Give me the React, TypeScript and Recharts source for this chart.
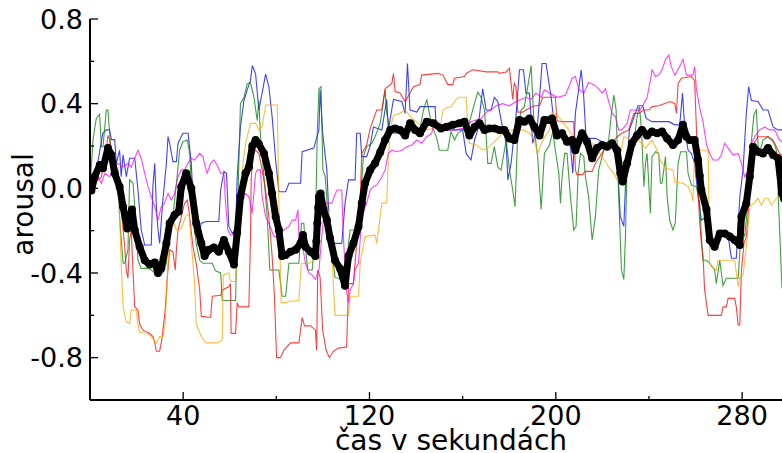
import React from 'react';
import { LineChart, Line, XAxis, YAxis } from 'recharts';

// ---- axis ticks ----
const xMajorTicks = [40, 120, 200, 280];
const xMinorTicks = [80, 160, 240];
const yMajorTicks = [0.8, 0.4, 0.0, -0.4, -0.8];
const yMinorTicks = [0.6, 0.2, -0.2, -0.6];
const xLabel = 'čas v sekundách';
const yLabel = 'arousal';

// ---- series: [seconds, arousal] ----
const meanSeries: [number, number][] = [
  [0, 0], [0.6, -0.01], [2, 0.055], [4.2, 0.11], [5.6, 0.095], [7.7, 0.19], [9.2, 0.158], [10.6, 0.071], [12.7, 0.008], [14.2, -0.087],
  [16, -0.19], [17, -0.134], [18, -0.1], [19.2, -0.197], [21.3, -0.276], [23.5, -0.34], [25.6, -0.36], [27.8, -0.35], [29.2, -0.4], [30.6, -0.378],
  [32.8, -0.26], [34.2, -0.165], [36.3, -0.126], [38.1, -0.11], [39.2, 0.008], [41.3, 0.071], [43.5, 0], [45.6, -0.165], [47.8, -0.26], [49.2, -0.32],
  [51, -0.29], [53.2, -0.28], [55.3, -0.3], [57.5, -0.244], [59.6, -0.3], [61.8, -0.36], [63.2, -0.21], [64.6, -0.04], [66.8, 0.071], [68.2, 0.1],
  [69.7, 0.2], [71.1, 0.228], [72.5, 0.21], [74.7, 0.165], [76.8, 0.071], [78.2, -0.024], [79.7, -0.134], [81.1, -0.197], [82.5, -0.32], [84, -0.315],
  [86.1, -0.3], [88.3, -0.29], [90.4, -0.26], [91.4, -0.22], [92.5, -0.276], [94.7, -0.3], [96.8, -0.32], [97.2, -0.25], [97.6, -0.165], [98, -0.09], [98.3, -0.04],
  [99, -0.024], [100.2, -0.1], [101.7, -0.15], [103.1, -0.236], [105.2, -0.34], [107.4, -0.38], [109.5, -0.46], [111, -0.32], [113.1, -0.26], [115.3, -0.18],
  [116.7, -0.07], [118.1, 0.024], [120.3, 0.087], [122.4, 0.118], [124.6, 0.17], [126.7, 0.228], [128.9, 0.276], [131, 0.283], [133.1, 0.276], [135.3, 0.25],
  [137.4, 0.307], [139.6, 0.276], [141.7, 0.26], [144.6, 0.315], [147.5, 0.307], [150.7, 0.283], [152.9, 0.29], [155.8, 0.3], [158.6, 0.307], [160.8, 0.315],
  [162.9, 0.25], [165.1, 0.29], [167.2, 0.307], [169.4, 0.276], [171.5, 0.283], [173.6, 0.283], [175.8, 0.276], [177.9, 0.276], [180.1, 0.236], [182.2, 0.228],
  [184.4, 0.323], [186.5, 0.315], [188.7, 0.33], [190.8, 0.29], [193, 0.25], [195.1, 0.323], [197.3, 0.323], [198.4, 0.33], [200.5, 0.25], [202.7, 0.26],
  [204.8, 0.22], [207, 0.228], [208.4, 0.18], [211.3, 0.26], [213.4, 0.22], [215.6, 0.142], [217.7, 0.19], [219.9, 0.205], [222, 0.197], [224.2, 0.213],
  [226.3, 0.18], [227.7, 0.071], [228.7, 0.032], [230.6, 0.118], [232.7, 0.213], [234.9, 0.25], [237, 0.276], [239.2, 0.25], [241.3, 0.268], [243.5, 0.26],
  [245.6, 0.268], [247.8, 0.236], [250.3, 0.205], [252.5, 0.228], [254.6, 0.3], [256.1, 0.244], [257.5, 0.228], [259.6, 0.228], [261.1, 0.134], [261.8, 0.06], [262.5, -0.008],
  [264.7, -0.1], [266.1, -0.244], [268.2, -0.276], [270.4, -0.213], [272.5, -0.213], [274.7, -0.228], [276.8, -0.244], [279, -0.268], [279.7, -0.134], [281.8, -0.07],
  [283.3, 0.055], [284.7, 0.197], [286.8, 0.173], [289, 0.165], [291.1, 0.19], [293.3, 0.158], [295.4, 0.142], [297.1, -0.024], [298, -0.05],
];

const blueSeries: [number, number][] = [
  [0, 0], [3, 0.1], [5.5, 0.26], [7, 0.276], [8.4, 0.276], [9.2, 0.23], [10.6, 0.23], [11.3, 0.118], [12.7, 0.18], [13.4, 0.055], [14.2, 0.158], [15.6, 0.055],
  [17, 0.142], [19.2, 0.142], [20.6, -0.008], [22, -0.197], [23.5, -0.268], [26.3, -0.268], [27, 0.008], [27.8, 0.118], [28.5, -0.087], [29.2, -0.197],
  [29.9, -0.26], [31.3, -0.055], [32.8, 0.118], [33.5, 0.244], [34.2, 0.213], [35.6, 0.126], [37.1, 0.126], [37.8, 0.213], [39.9, 0.26], [42.1, 0.26],
  [43.5, 0.118], [44.9, -0.213], [46.4, -0.236], [47.8, -0.165], [49.8, -0.157], [55.3, -0.157], [56.1, -0.008], [57.5, 0.08], [58.6, 0.071], [59.6, -0.18],
  [61.1, -0.213], [62.5, -0.197], [63.2, 0.055], [64.6, 0.29], [66.1, 0.415], [67.5, 0.465], [68.9, 0.51], [69.7, 0.58], [71.1, 0.54], [72.5, 0.37],
  [73.9, 0.45], [75.4, 0.54], [76.8, 0.48], [78.2, 0.338], [79.7, 0.134], [81.1, -0.016], [84, -0.016], [85.4, 0.024], [90.4, 0.024], [91.1, 0.173],
  [96.1, 0.19], [98.3, 0.276], [98.8, 0.465], [99.9, 0.26], [101.7, 0.087], [103.1, -0.26], [108.1, -0.26], [109.5, -0.07], [111, 0.04], [113.8, 0.04],
  [114.5, 0.26], [116, 0.26], [116.7, 0.15], [118.8, 0.15], [120.3, 0.2], [121.7, 0.29], [125.3, 0.276], [127.4, 0.42], [128.1, 0.276], [130.3, 0.42],
  [133.9, 0.41], [135.3, 0.354], [136.3, 0.59], [137.4, 0.37], [140.3, 0.36], [141.7, 0.386], [148.2, 0.386], [148.6, 0.29], [152.9, 0.276], [160, 0.276],
  [161.5, 0.165], [163.6, 0.134], [165.1, 0.228], [166.5, 0.276], [168.6, 0.47], [170.1, 0.37], [172.2, 0.37], [173.6, 0.43], [175.1, 0.41], [176.5, 0.323],
  [178.7, 0.213], [179.4, 0.04], [180.8, 0.118], [183, 0.354], [184.4, 0.56], [186.1, 0.56], [187.2, 0.45], [188.7, 0.45], [190.1, 0.213], [192.2, 0.307],
  [194.1, 0.59], [195.8, 0.59], [198, 0.43], [199.1, 0.323], [201.3, 0.276], [204.1, 0.228], [206.3, 0.197], [207.3, 0.071], [208.4, 0.354], [209.6, 0.45],
  [210.9, 0.56], [212, 0.43], [213, 0.236], [217, 0.236], [219.9, 0.22], [223.4, 0.205], [226.3, 0.15], [227.7, -0.134], [229.2, -0.18], [229.9, 0.008],
  [231.6, 0.276], [235.3, 0.39], [237.3, 0.39], [238.8, 0.33], [241.3, 0.315], [248.5, 0.315], [251.1, 0.3], [253.2, 0.3], [254.4, 0.45], [255.4, 0.276],
  [256.8, 0.18], [258.2, 0.165], [259.6, 0.118], [261.1, -0.04], [262.5, -0.15], [264.7, -0.134], [266.1, -0.26], [268.2, -0.26], [271.1, -0.197], [274, -0.228],
  [275.4, -0.33], [277.5, -0.33], [279, -0.04], [280.4, 0.087], [281.8, 0.354], [282.8, 0.48], [284, 0.415], [286.8, 0.41], [289, 0.37], [291.1, 0.37],
  [293.3, 0.29], [295.4, 0.276], [298, 0.276],
];

const greenSeries: [number, number][] = [
  [0, 0], [1.3, 0.23], [2.7, 0.33], [4.1, 0.35], [4.9, 0.197], [5.6, 0.197], [7, 0.37], [7.7, 0.37], [9.2, 0.15], [10.6, 0.118], [12, 0.087], [12.7, -0.134],
  [14.2, -0.354], [14.9, -0.354], [16.3, -0.29], [17, 0.04], [18.5, 0.024], [19.2, -0.087], [20.6, -0.34], [22, -0.378], [24.9, -0.378], [26.3, -0.386],
  [27.8, -0.4], [29.9, -0.41], [31.3, -0.4], [32.8, -0.354], [33.5, -0.26], [34.6, -0.134], [35.6, -0.134], [37.1, 0.024], [38.5, 0.18], [39.9, 0.22],
  [41.8, 0.228], [42.8, 0.165], [44.2, -0.134], [45.6, -0.26], [47.1, -0.34], [48.5, -0.354], [52.5, -0.354], [53.9, -0.39], [56.1, -0.4], [56.8, -0.53],
  [62.5, -0.53], [63.2, -0.197], [63.9, 0.118], [64.6, 0.4], [66.1, 0.43], [67.5, 0.495], [68.9, 0.5], [70.4, 0.43], [71.8, 0.32], [72.5, 0.415],
  [73.2, 0.244], [74.7, 0.055], [76.1, -0.134], [77.2, -0.386], [81.1, -0.386], [82.5, -0.51], [84, -0.51], [85.4, -0.354], [89.7, -0.354], [90.8, -0.165],
  [91.8, -0.165], [92.5, -0.276], [93.5, -0.386], [95.4, -0.386], [96.8, -0.197], [97.6, 0.276], [98.3, 0.47], [99.2, 0.48], [100, 0.087], [101, 0.055],
  [102.4, -0.165], [103.8, -0.29], [105.2, -0.42], [107.4, -0.43], [109.5, -0.46], [111, -0.26], [111.7, -0.197], [114.5, -0.197], [116, -0.07], [117.4, 0.15],
  [118.8, 0.197], [121, 0.213], [122.4, 0.244], [124.6, 0.307], [126.7, 0.465], [127.4, 0.354], [128.9, 0.276], [130.3, 0.26], [132.4, 0.26], [133.9, 0.268],
  [135.3, 0.25], [136.7, 0.276], [138.9, 0.323], [141, 0.244], [143.2, 0.37], [144.6, 0.42], [146, 0.338], [147.5, 0.276], [148.9, 0.236], [150, 0.18],
  [153.6, 0.18], [155, 0.268], [156.5, 0.228], [157.9, 0.26], [160, 0.276], [162.2, 0.283], [164.3, 0.37], [166.5, 0.455], [167.9, 0.43], [169.4, 0.37],
  [170.8, 0.118], [172.2, 0.118], [173.6, 0.197], [175.1, 0.1], [176.5, 0.087], [178.7, 0.228], [180.1, 0.087], [181.5, -0.008], [182.5, -0.087], [183.7, 0.276],
  [185.1, 0.37], [186.5, 0.386], [188.4, 0.51], [189.4, 0.58], [190.8, 0.276], [192.2, 0.15], [193.7, -0.1], [195.1, 0.165], [197.3, 0.205], [198.7, 0.268],
  [199.8, 0.18], [201.3, 0.071], [202, -0.07], [202.7, 0.055], [203.8, 0.165], [204.8, 0.165], [206.3, -0.04], [207.7, -0.197], [208.7, -0.18], [209.6, 0.071],
  [210.6, 0.165], [212, 0.15], [212.7, 0.055], [214.1, -0.04], [215.6, -0.244], [217, -0.134], [218.4, 0.087], [220.6, 0.18], [222.7, 0.228], [223.9, 0.354],
  [224.9, 0.44], [225.9, 0.37], [227, -0.04], [228.2, -0.386], [229.2, -0.43], [229.9, -0.228], [230.6, 0.118], [232, 0.213], [233.5, 0.22], [234.9, 0.338],
  [235.9, 0.386], [236.8, 0.276], [237.8, 0.008], [238.5, 0.118], [239.2, 0.165], [240.6, -0.118], [241.3, 0.15], [242.8, 0.173], [244.2, 0.165], [244.9, 0.024],
  [245.6, 0.024], [247.1, 0.15], [247.8, -0.04], [248.9, -0.15], [250.3, -0.197], [251.3, -0.165], [252.5, 0.118], [253.6, 0.173], [256.1, 0.173], [256.8, 0.071],
  [258.2, 0.016], [260.4, 0.008], [261.8, -0.07], [262.5, -0.228], [263.2, -0.34], [264.7, -0.34], [266.1, -0.354], [268.2, -0.386], [268.9, -0.45], [270.4, -0.34],
  [271.8, -0.46], [273.2, -0.425], [278.3, -0.425], [279.7, -0.18], [281.1, -0.228], [282.5, -0.07], [284, 0.228], [285.1, 0.35], [286.1, 0.37], [287.1, 0.15],
  [289, 0.228], [291.1, 0.244], [293.3, 0.228], [294.7, 0.18], [296.1, -0.197], [297.1, -0.47], [298, -0.47],
];

const redSeries: [number, number][] = [
  [0, 0], [4.9, 0.055], [7, 0.18], [7.7, 0.25], [8.4, 0.23], [9.9, 0.087], [11.3, 0.087], [12.7, -0.008], [13.4, -0.1], [14.9, -0.276], [15.6, -0.386],
  [16.3, -0.425], [17, -0.244], [17.7, -0.197], [18.5, -0.4], [19.2, -0.56], [20.6, -0.575], [21.3, -0.64], [22.7, -0.67], [25.6, -0.685], [27, -0.7],
  [27.8, -0.73], [28.5, -0.77], [29.9, -0.77], [30.9, -0.71], [32.3, -0.575], [33.2, -0.42], [34.2, -0.29], [35.6, -0.3], [36.6, -0.386], [37.1, -0.29],
  [37.8, -0.197], [39.2, -0.134], [40.6, -0.07], [41.8, -0.055], [42.8, -0.134], [44.2, -0.276], [45.6, -0.354], [47.1, -0.48], [47.8, -0.605], [51.8, -0.61],
  [52.5, -0.51], [56.1, -0.505], [56.8, -0.48], [59.6, -0.465], [60.3, -0.45], [60.6, -0.685], [62.5, -0.685], [63.2, -0.54], [63.9, -0.56], [68.2, -0.56],
  [68.9, -0.244], [69.2, 0.04], [69.9, 0.165], [71.1, 0.18], [72.5, 0.165], [73.9, 0.087], [75.4, -0.008], [76.8, -0.134], [78.2, -0.32], [79.2, -0.51],
  [80.1, -0.8], [81.8, -0.8], [83.2, -0.765], [86.1, -0.73], [89.7, -0.73], [91.1, -0.61], [92.1, -0.65], [94.7, -0.65], [96.8, -0.67], [97.3, -0.765],
  [97.8, -0.386], [98.8, -0.42], [99.9, -0.67], [101.4, -0.765], [102.8, -0.8], [104.5, -0.77], [106.7, -0.755], [110.2, -0.75], [111, -0.45], [113.1, -0.45],
  [114.5, -0.26], [116, -0.055], [116.7, 0.165], [118.8, 0.205], [120.3, 0.283], [123.1, 0.37], [125.3, 0.37], [126.7, 0.47], [129.6, 0.496], [130.3, 0.543],
  [131, 0.457], [133.1, 0.45], [135.3, 0.41], [137.4, 0.45], [138.9, 0.48], [141.7, 0.49], [142.4, 0.535], [149.5, 0.543], [151.5, 0.535], [153.6, 0.49],
  [155.8, 0.49], [156.5, 0.52], [160.8, 0.528], [161.5, 0.543], [164.3, 0.56], [170.1, 0.55], [175.1, 0.55], [175.8, 0.543], [178.7, 0.55], [180.1, 0.567],
  [180.8, 0.496], [181.5, 0.42], [182.2, 0.496], [182.9, 0.48], [183.7, 0.36], [185.8, 0.36], [187.2, 0.37], [190.8, 0.39], [193, 0.39], [194.4, 0.43],
  [197.3, 0.43], [199.8, 0.43], [200.5, 0.32], [202, 0.315], [207.7, 0.315], [208.4, 0.087], [209.1, 0.065], [211.3, 0.065], [212.7, 0.08], [215.6, 0.08],
  [217, 0.118], [218.4, 0.142], [219.9, 0.165], [221.3, 0.205], [224.2, 0.213], [226.3, 0.244], [228.4, 0.26], [231.3, 0.276], [233.5, 0.354], [235.6, 0.354],
  [237.8, 0.37], [239.9, 0.37], [241.3, 0.386], [244.2, 0.39], [249.1, 0.41], [251.1, 0.4], [251.8, 0.354], [252.5, 0.496], [253.9, 0.52], [258.2, 0.528],
  [259.6, 0.51], [260.4, 0.276], [261.1, -0.008], [261.8, -0.165], [262.5, -0.26], [263.2, -0.32], [263.9, -0.48], [265.4, -0.6], [271.1, -0.6], [271.8, -0.56],
  [273.2, -0.56], [274, -0.52], [276.8, -0.52], [277.5, -0.56], [278.3, -0.645], [279, -0.645], [279.7, -0.386], [280.8, -0.26], [281.8, -0.228], [282.5, -0.134],
  [283.7, 0.087], [285.1, 0.213], [286.8, 0.244], [291.1, 0.244], [294, 0.213], [296.1, 0.165], [298, 0.15],
];

const orangeSeries: [number, number][] = [
  [0, 0], [4, 0.1], [7.7, 0.21], [9.9, 0.13], [12, 0.087], [12.7, -0.134], [13.4, -0.354], [14.2, -0.56], [15.6, -0.63], [17, -0.64], [17.7, -0.575],
  [19.9, -0.575], [20.6, -0.64], [21.3, -0.68], [23.5, -0.685], [25.6, -0.69], [27, -0.71], [28.5, -0.73], [29.9, -0.7], [31.3, -0.7], [32.3, -0.64],
  [33.2, -0.42], [34.2, -0.197], [35.6, -0.15], [37.1, -0.197], [39.2, -0.19], [41.3, -0.126], [42.5, -0.126], [43.5, -0.26], [44.9, -0.45], [45.6, -0.64],
  [47.8, -0.7], [49.8, -0.73], [54.6, -0.73], [56.8, -0.715], [57.2, -0.41], [59.6, -0.4], [60.3, -0.44], [62.5, -0.44], [63.2, -0.26], [64.6, -0.15],
  [65.4, 0.087], [66.8, 0.213], [68.9, 0.307], [71.1, 0.307], [72.5, 0.276], [73.9, 0.29], [75.4, 0.394], [80.4, 0.394], [81.1, -0.07], [82.1, -0.54],
  [84, -0.54], [85.4, -0.535], [89.7, -0.53], [90.7, -0.354], [94, -0.354], [96.1, -0.34], [97.6, -0.165], [98.8, -0.15], [101.7, -0.07], [103.1, -0.197],
  [104.2, -0.386], [105.2, -0.6], [111, -0.6], [111.7, -0.51], [115.3, -0.51], [116, -0.354], [118.1, -0.228], [122.4, -0.22], [123.1, -0.26], [124.3, -0.157],
  [125.3, -0.07], [127.4, -0.07], [128.1, 0.15], [129.1, 0.29], [130.3, 0.346], [133.1, 0.354], [135.3, 0.37], [138.2, 0.33], [141, 0.307], [143.9, 0.276],
  [147.5, 0.283], [150.7, 0.307], [151.5, 0.37], [152.9, 0.38], [155, 0.386], [157.2, 0.42], [158.6, 0.43], [161.5, 0.43], [162.2, 0.29], [162.9, 0.213],
  [165.8, 0.205], [168.6, 0.18], [170.8, 0.19], [172.2, 0.205], [174.4, 0.228], [177.2, 0.26], [179.4, 0.276], [185.8, 0.276], [188.7, 0.26], [190.8, 0.228],
  [192.2, 0.165], [194.4, 0.228], [197.3, 0.276], [198.4, 0.36], [201.3, 0.338], [203.4, 0.307], [205.6, 0.276], [208.4, 0.228], [211.3, 0.244], [214.1, 0.228],
  [217, 0.197], [219.9, 0.15], [222.7, 0.1], [224.9, 0.071], [226.3, 0.04], [227.7, 0.15], [229.2, 0.244], [232.7, 0.228], [235.6, 0.228], [238.5, 0.19],
  [241.3, 0.228], [243.5, 0.18], [244.9, 0.134], [247.1, 0.095], [250.3, 0.087], [251.1, 0.03], [254.6, 0.024], [256.8, 0.008], [258.2, -0.024], [258.9, -0.06],
  [259.6, 0.18], [265.4, 0.18], [266.1, -0.354], [266.8, -0.37], [268.9, -0.386], [269.7, -0.34], [276.8, -0.34], [278.3, -0.465], [279, -0.42], [280.4, -0.41],
  [281.8, -0.276], [283.3, -0.087], [285.1, -0.07], [286.8, -0.047], [288.3, -0.08], [289.7, -0.047], [291.1, -0.047], [292.6, -0.08], [294.7, -0.047], [298, -0.024],
];

const magentaSeries: [number, number][] = [
  [0, 0], [2, 0.008], [3.4, 0.055], [4.9, 0.024], [6.3, 0.071], [8.4, 0.055], [9.9, 0.087], [12, 0.118], [14.2, 0.1], [16.3, 0.118], [17.7, 0.1],
  [19.2, 0.142], [20.6, 0.18], [22, 0.142], [23.5, 0.071], [24.9, 0.008], [26.3, -0.04], [27.8, -0.087], [29.2, -0.15], [30.6, -0.087], [32, -0.07],
  [33.5, -0.024], [34.9, -0.055], [36.3, -0.024], [37.8, 0.055], [39.2, 0.087], [40.6, 0.087], [42.1, 0.118], [43.5, 0.142], [44.9, 0.134], [47.1, 0.165],
  [48.5, 0.15], [49.5, 0.1], [50.3, 0.071], [51.8, 0.118], [53.2, 0.134], [54.6, 0.11], [56.1, 0.071], [57.5, 0.071], [58.2, -0.07], [59.2, -0.197],
  [60.3, -0.22], [61.8, -0.22], [63.2, -0.134], [64.6, -0.047], [66.8, -0.024], [68.2, -0.04], [69.6, -0.118], [71.1, 0.071], [71.8, 0.087], [73.2, 0.087],
  [73.9, -0.04], [75.4, -0.134], [76.8, -0.165], [79, -0.228], [81.1, -0.228], [83.2, -0.197], [85.4, -0.18], [86.8, -0.15], [88.3, -0.15], [89.3, -0.1],
  [89.7, -0.228], [91.1, -0.26], [92.5, -0.354], [94, -0.4], [95.4, -0.41], [96.8, -0.43], [98.3, -0.386], [99.5, -0.228], [101, -0.07], [103.8, -0.07],
  [106, -0.008], [108.1, -0.008], [108.8, -0.228], [110, -0.48], [111, -0.54], [111.7, -0.48], [113.1, -0.45], [113.8, -0.386], [115.3, -0.354], [116.7, -0.134],
  [118.8, -0.07], [120.3, -0.008], [121.7, 0.008], [123.1, 0.016], [125.3, 0.055], [126.7, 0.087], [128.1, 0.165], [129.6, 0.18], [131.7, 0.173], [133.9, 0.18],
  [136, 0.197], [138.2, 0.205], [140.3, 0.228], [142.4, 0.213], [144.6, 0.244], [146.7, 0.26], [148.2, 0.323], [150.7, 0.29], [152.9, 0.276], [157.2, 0.276],
  [159.3, 0.283], [161.5, 0.283], [163.6, 0.315], [165.8, 0.323], [168, 0.33], [170.1, 0.36], [172.2, 0.37], [174.4, 0.39], [177.2, 0.4], [180.1, 0.39],
  [182.9, 0.41], [185.1, 0.42], [187.2, 0.43], [189.4, 0.42], [191.5, 0.45], [193.7, 0.43], [195.1, 0.465], [197.3, 0.45], [200.5, 0.43], [204.1, 0.44],
  [205.6, 0.48], [207, 0.52], [208.4, 0.528], [209.8, 0.47], [212, 0.45], [214.1, 0.5], [216.3, 0.49], [218.4, 0.47], [219.9, 0.45], [221.3, 0.47],
  [222.7, 0.41], [224.2, 0.354], [225.6, 0.338], [227, 0.276], [228.4, 0.276], [230.6, 0.307], [232, 0.37], [236.3, 0.37], [237.8, 0.4], [239.2, 0.43],
  [240.6, 0.51], [241.3, 0.56], [242.8, 0.528], [244.2, 0.535], [245.6, 0.56], [247.1, 0.61], [248.5, 0.63], [249.6, 0.575], [251.1, 0.535], [253.2, 0.575],
  [254.6, 0.61], [256.1, 0.535], [258.9, 0.535], [259.6, 0.575], [260.4, 0.465], [261.8, 0.38], [263.2, 0.315], [264.7, 0.205], [266.1, 0.165], [267.5, 0.134],
  [269.7, 0.134], [271.1, 0.158], [272.5, 0.213], [274, 0.19], [276.1, 0.158], [278.3, 0.165], [279.7, 0.118], [281.1, 0.055], [282.5, 0.087], [284, 0.213],
  [285.4, 0.244], [287.5, 0.276], [289.7, 0.29], [291.8, 0.276], [294, 0.276], [296.1, 0.228], [298, 0.213],
];

const FONT = "'DejaVu Sans', 'Bitstream Vera Sans', sans-serif";
const toPoints = (arr: [number, number][]) => arr.map(([t, v]) => ({ t, v }));

const colored = [
  { name: 'blue', color: '#0000ff', data: toPoints(blueSeries) },
  { name: 'green', color: '#008000', data: toPoints(greenSeries) },
  { name: 'red', color: '#ff0000', data: toPoints(redSeries) },
  { name: 'orange', color: '#ffa500', data: toPoints(orangeSeries) },
  { name: 'magenta', color: '#ff00ff', data: toPoints(magentaSeries) },
];
const meanData = toPoints(meanSeries);

const xTicks = [...xMajorTicks, ...xMinorTicks].sort((a, b) => a - b);
const yTicks = [...yMajorTicks, ...yMinorTicks].sort((a, b) => a - b);

function BottomTick(props: any) {
  const { x, y, payload } = props;
  const major = xMajorTicks.includes(payload.value);
  return (
    <g>
      <line x1={x} x2={x} y1={y} y2={y - (major ? 8 : 4)} stroke="#000" strokeWidth={1.3} />
      {major && (
        <text x={x} y={y + 25} textAnchor="middle" fontSize={27} fontFamily={FONT} fill="#000">
          {payload.value}
        </text>
      )}
    </g>
  );
}

function TopTick(props: any) {
  const { x, y, payload } = props;
  const major = xMajorTicks.includes(payload.value);
  return <line x1={x} x2={x} y1={y} y2={y + (major ? 8 : 4)} stroke="#000" strokeWidth={1.3} />;
}

function LeftTick(props: any) {
  const { x, y, payload } = props;
  const major = yMajorTicks.some((m) => Math.abs(m - payload.value) < 1e-9);
  return (
    <g>
      <line x1={x} x2={x + (major ? 8 : 4)} y1={y} y2={y} stroke="#000" strokeWidth={1.3} />
      {major && (
        <text x={x - 7} y={y} dy="0.36em" textAnchor="end" fontSize={27} fontFamily={FONT} fill="#000">
          {payload.value.toFixed(1)}
        </text>
      )}
    </g>
  );
}

function XTitle(props: any) {
  const vb = props.viewBox;
  return (
    <text x={vb.x + vb.width / 2} y={vb.y + vb.height - 3} textAnchor="middle" fontSize={28} fontFamily={FONT} fill="#000">
      {xLabel}
    </text>
  );
}

function YTitle(props: any) {
  const vb = props.viewBox;
  const cx = vb.x + 33;
  const cy = vb.y + vb.height / 2 - 5;
  return (
    <text x={cx} y={cy} transform={`rotate(-90 ${cx} ${cy})`} textAnchor="middle" fontSize={28} fontFamily={FONT} fill="#000">
      {yLabel}
    </text>
  );
}

export default function App() {
  return (
    <div style={{ position: 'absolute', left: 0, top: 0, width: 782, height: 453, overflow: 'hidden', background: '#fff' }}>
      <LineChart width={820} height={453} margin={{ top: 19, right: 8, bottom: 0, left: 0 }}>
        <XAxis
          dataKey="t"
          type="number"
          domain={[0, 310]}
          ticks={xTicks}
          interval={0}
          tickSize={0}
          tickMargin={0}
          tickLine={false}
          tick={<BottomTick />}
          axisLine={{ stroke: '#000', strokeWidth: 2 }}
          height={53}
          allowDataOverflow
          label={<XTitle />}
        />
        <XAxis
          xAxisId="top"
          orientation="top"
          dataKey="t"
          type="number"
          domain={[0, 310]}
          ticks={xTicks}
          interval={0}
          tickSize={0}
          tickMargin={0}
          tickLine={false}
          tick={<TopTick />}
          axisLine={{ stroke: '#000', strokeWidth: 2 }}
          height={0}
          allowDataOverflow
        />
        <YAxis
          type="number"
          domain={[-1.0, 0.8]}
          ticks={yTicks}
          interval={0}
          tickSize={0}
          tickMargin={0}
          tickLine={false}
          tick={<LeftTick />}
          axisLine={{ stroke: '#000', strokeWidth: 2 }}
          width={90}
          allowDataOverflow
          label={<YTitle />}
        />
        {colored.map((s) => (
          <Line
            key={s.name}
            data={s.data}
            dataKey="v"
            type="linear"
            stroke={s.color}
            strokeOpacity={0.75}
            strokeWidth={1.1}
            dot={false}
            isAnimationActive={false}
          />
        ))}
        <Line
          data={meanData}
          dataKey="v"
          type="linear"
          stroke="#000"
          strokeWidth={7}
          strokeLinejoin="round"
          dot={{ r: 4, fill: '#000', stroke: 'none' }}
          isAnimationActive={false}
        />
      </LineChart>
    </div>
  );
}
